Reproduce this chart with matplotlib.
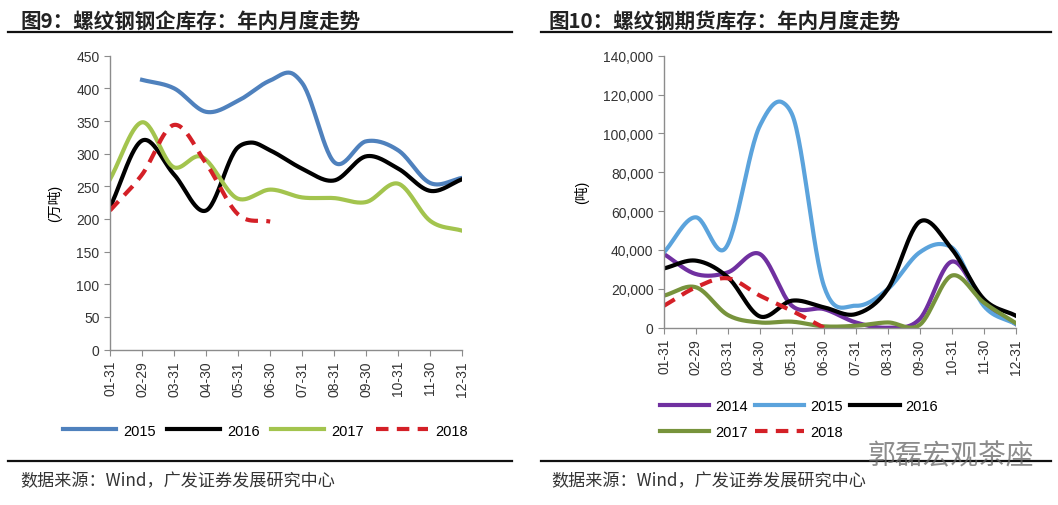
import numpy as np
import matplotlib
matplotlib.use("Agg")
import matplotlib.pyplot as plt
from matplotlib.ticker import FuncFormatter

plt.rcParams['font.family'] = ['Liberation Sans', 'Noto Sans CJK SC', 'DejaVu Sans']

months = ["01-31", "02-29", "03-31", "04-30", "05-31", "06-30",
          "07-31", "08-31", "09-30", "10-31", "11-30", "12-31"]

# 图9 钢企库存 (万吨); x = month index, a few half-month points where the curve turns
mill_2015_x = [1, 2, 3, 4, 5, 5.75, 6, 7, 8, 9, 10, 11]
mill_2015 = [413, 400, 364, 381, 412, 421, 408, 287, 319, 305, 255, 263]
mill_2016_x = [0, 1, 2, 3, 4, 4.4, 5, 6, 7, 8, 9, 10, 11]
mill_2016 = [218, 320, 268, 213, 310, 317, 305, 277, 259, 296, 277, 243, 261]
mill_2017_x = [0, 1, 2, 2.8, 4, 5, 6, 7, 8, 9, 10, 11]
mill_2017 = [261, 348, 279, 296, 231, 245, 233, 232, 226, 254, 197, 182]
mill_2018_x = [0, 1, 2, 3, 4, 5]
mill_2018 = [213, 268, 344, 285, 207, 196]

# 图10 期货库存 (吨)
fut_2014 = [37900, 27600, 28500, 37900, 11300, 9600, 2700, 0, 4500, 34000, 13000, 1900]
fut_2015_x = [0, 1, 1.9, 3, 3.7, 4, 5, 6, 7, 8, 8.7, 9, 10, 11]
fut_2015 = [38800, 56800, 40500, 104000, 116000, 110000, 21600, 11300, 19900, 38800, 43000, 41300, 11300, 1900]
fut_2016 = [30500, 34500, 25900, 5800, 13900, 10500, 7000, 19900, 54600, 40500, 14800, 6200]
fut_2017 = [16500, 20800, 6500, 2700, 3100, 700, 1000, 2700, 1500, 26800, 13000, 2400]
fut_2018 = [11300, 20800, 25400, 16500, 8700, 0]


def smooth(x, y, n=30):
    # cubic hermite in x, tangents from neighbours (keeps the line a function of x)
    x = np.asarray(x, float)
    y = np.asarray(y, float)
    m = np.gradient(y, x)
    xs, ys = [], []
    t = np.linspace(0, 1, n)
    for i in range(len(x) - 1):
        h = x[i + 1] - x[i]
        h00 = 2 * t ** 3 - 3 * t ** 2 + 1
        h10 = t ** 3 - 2 * t ** 2 + t
        h01 = -2 * t ** 3 + 3 * t ** 2
        h11 = t ** 3 - t ** 2
        xs.append(x[i] + t * h)
        ys.append(h00 * y[i] + h10 * h * m[i] + h01 * y[i + 1] + h11 * h * m[i + 1])
    return np.concatenate(xs), np.concatenate(ys)


def style_axes(ax):
    for s in ["top", "right"]:
        ax.spines[s].set_visible(False)
    for s in ["left", "bottom"]:
        ax.spines[s].set_color("#8c8c8c")
        ax.spines[s].set_linewidth(1.0)
    ax.tick_params(axis="both", colors="#8c8c8c", labelcolor="#333333",
                   labelsize=10, length=4)
    ax.set_xticks(range(12))
    ax.set_xticklabels(months, rotation=90)
    ax.set_xlim(0, 11)


fig = plt.figure(figsize=(10.58, 5.06), dpi=100)

BLUE = "#4F81BD"
LBLUE = "#5BA3DC"
BLACK = "#000000"
LGREEN = "#A3C44E"
OLIVE = "#77933C"
RED = "#D42027"
PURPLE = "#7030A0"

# left chart
ax1 = fig.add_axes([0.104, 0.307, 0.333, 0.581])
for x, y, c, lab in [(mill_2015_x, mill_2015, BLUE, "2015"),
                     (mill_2016_x, mill_2016, BLACK, "2016"),
                     (mill_2017_x, mill_2017, LGREEN, "2017")]:
    sx, sy = smooth(x, y)
    ax1.plot(sx, sy, color=c, lw=3, label=lab)
sx, sy = smooth(mill_2018_x, mill_2018)
ax1.plot(sx, sy, color=RED, lw=3, ls=(0, (3, 2)), label="2018")
ax1.set_ylim(0, 450)
ax1.set_yticks(range(0, 451, 50))
style_axes(ax1)
ax1.set_ylabel("(万吨)", fontsize=10, labelpad=10)
ax1.legend(loc="center left", bbox_to_anchor=(-0.17, -0.275), ncol=4, frameon=False,
           fontsize=10.5, handlelength=3.6, columnspacing=0.8, handletextpad=0.5)

# right chart
ax2 = fig.add_axes([0.6276, 0.3504, 0.3324, 0.5376])
lines = {}
sx, sy = smooth(range(12), fut_2014)
lines["2014"], = ax2.plot(sx, sy, color=PURPLE, lw=3, label="2014")
sx, sy = smooth(fut_2015_x, fut_2015)
lines["2015"], = ax2.plot(sx, sy, color=LBLUE, lw=3, label="2015")
sx, sy = smooth(range(12), fut_2016)
lines["2016"], = ax2.plot(sx, sy, color=BLACK, lw=3, label="2016")
sx, sy = smooth(range(12), fut_2017)
lines["2017"], = ax2.plot(sx, sy, color=OLIVE, lw=3, label="2017")
sx, sy = smooth(range(6), fut_2018)
lines["2018"], = ax2.plot(sx, sy, color=RED, lw=3, ls=(0, (3, 2)), label="2018")
ax2.set_ylim(0, 140000)
ax2.set_yticks(range(0, 140001, 20000))
ax2.yaxis.set_major_formatter(FuncFormatter(lambda v, p: f"{int(v):,}"))
style_axes(ax2)
ax2.set_ylabel("(吨)", fontsize=10, labelpad=10)
order = ["2014", "2017", "2015", "2018", "2016"]
ax2.legend([lines[k] for k in order], order, loc="upper left",
           bbox_to_anchor=(-0.05, -0.215), ncol=3, frameon=False,
           fontsize=10.5, handlelength=3.4, columnspacing=0.5, handletextpad=0.4,
           labelspacing=0.8)

# titles, rules and source
cjk = ['Noto Sans CJK SC', 'DejaVu Sans']
fig.text(0.019, 0.957, "图9：螺纹钢钢企库存：年内月度走势", fontsize=14.8, fontweight="bold",
         family=cjk, color="#222222", va="center")
fig.text(0.518, 0.957, "图10：螺纹钢期货库存：年内月度走势", fontsize=14.8, fontweight="bold",
         family=cjk, color="#222222", va="center")
for x0, x1 in [(0.008, 0.484), (0.511, 0.993)]:
    fig.add_artist(plt.Line2D([x0, x1], [0.934, 0.934], color="#111111", lw=1.6))
    fig.add_artist(plt.Line2D([x0, x1], [0.087, 0.087], color="#111111", lw=1.6))
fig.text(0.019, 0.05, "数据来源：Wind，广发证券发展研究中心", fontsize=12.3, family=cjk,
         color="#333333", va="center")
fig.text(0.521, 0.05, "数据来源：Wind，广发证券发展研究中心", fontsize=12.3, family=cjk,
         color="#333333", va="center")
fig.text(0.82, 0.098, "郭磊宏观茶座", fontsize=20, family=cjk, color="#666666",
         alpha=0.75, va="center")

fig.savefig("out.png", dpi=100)
